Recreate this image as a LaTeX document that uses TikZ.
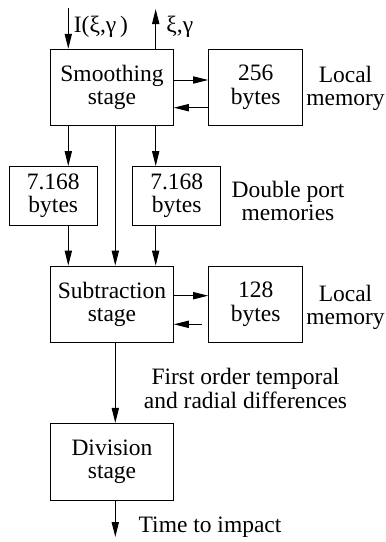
\documentclass[tikz,border=0pt]{standalone}
\usepackage{fontspec}
\setmainfont{Liberation Serif}
\usetikzlibrary{arrows.meta}

\tikzset{
  box/.style={draw, line width=0.5pt, align=center, inner sep=0pt},
  lbl/.style={align=center, inner sep=0pt},
  arr/.style={line width=0.5pt, -{Triangle[length=7.5pt,width=3.6pt]}}
}

\begin{document}
\begin{tikzpicture}[x=0.5pt, y=-0.5pt, font=\fontsize{11.75}{11.6}\selectfont]
  \useasboundingbox (0,0) rectangle (386,542);

  % Processing stages
  \node[box, minimum width=61.3pt, minimum height=37.9pt] (smooth) at (112,87.2) {Smoothing\\stage};
  \node[box, minimum width=61.3pt, minimum height=38.1pt] (sub) at (112,304.2) {Subtraction\\stage};
  \node[box, minimum width=61.3pt, minimum height=38.3pt] (div) at (112,461.7) {Division\\stage};

  % Memories
  \node[box, minimum width=47pt, minimum height=37.9pt] (mem1) at (255.7,87.2) {256\\bytes};
  \node[box, minimum width=47pt, minimum height=38.1pt] (mem2) at (255.7,304.2) {128\\bytes};
  \node[box, minimum width=44.3pt, minimum height=29.2pt] (dp1) at (53.3,195.8) {7.168\\bytes};
  \node[box, minimum width=44pt, minimum height=29.2pt] (dp2) at (176.7,195.8) {7.168\\bytes};

  % Side labels
  \node[lbl] (lm1) at (345.5,88) {Local\\memory};
  \node[lbl] (dpm) at (288,201) {Double port\\memories};
  \node[lbl] (lm2) at (345.5,307) {Local\\memory};
  \node[lbl] (diff) at (245.5,388.4) {First order temporal\\and radial differences};

  % Free ends and columns
  \coordinate (in1) at (68.3,8);
  \coordinate (out1) at (155.7,9);
  \coordinate (out2) at (115.3,537);
  \coordinate (cl) at (68.3,0);
  \coordinate (cm) at (115.3,0);
  \coordinate (cr) at (155.7,0);

  \node[lbl, anchor=base west] (inlbl) at (73.5,32.7) {I(ξ,γ\,)};
  \node[lbl, anchor=base west] (outlbl) at (166,32.7) {ξ,γ};
  \node[lbl, anchor=base west] (tti) at (138.3,532.3) {Time to impact};

  % Connections
  \draw[arr] (in1) -- (in1 |- smooth.north);
  \draw[arr] (smooth.north -| out1) -- (out1);
  \draw[arr] (smooth.east |- 0,80) -- (mem1.west |- 0,80);
  \draw[arr] (mem1.west |- 0,107.7) -- (smooth.east |- 0,107.7);

  \draw[arr] (smooth.south -| cl) -- (dp1.north -| cl);
  \draw[arr] (smooth.south -| cr) -- (dp2.north -| cr);
  \draw[arr] (smooth.south -| cm) -- (sub.north -| cm);
  \draw[arr] (dp1.south -| cl) -- (sub.north -| cl);
  \draw[arr] (dp2.south -| cr) -- (sub.north -| cr);

  \draw[arr] (sub.east |- 0,295.7) -- (mem2.west |- 0,295.7);
  \draw[arr, shorten <=3pt] (mem2.west |- 0,324.3) -- (sub.east |- 0,324.3);

  \draw[arr] (sub.south -| cm) -- (div.north -| cm);
  \draw[arr] (div.south -| cm) -- (out2);
\end{tikzpicture}
\end{document}
